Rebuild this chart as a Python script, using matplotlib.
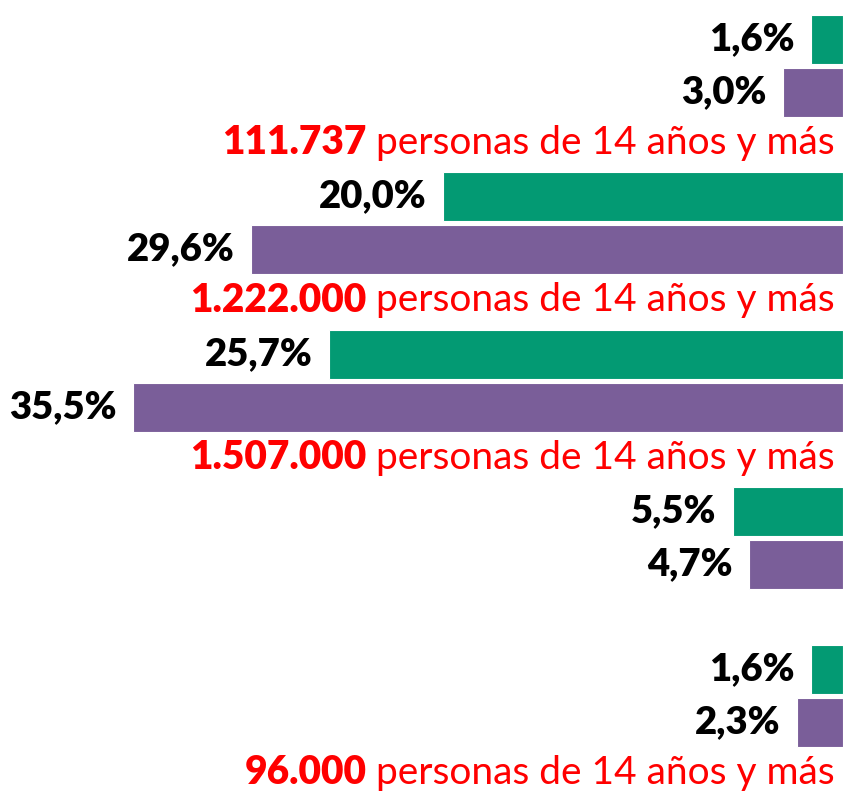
import matplotlib
import matplotlib.pyplot as plt

matplotlib.use("Agg")

GREEN = "#039A73"
PURPLE = "#7A5E99"
RED = "#FF0000"

green_vals = [1.6, 20.0, 25.7, 5.5, 1.6]
purple_vals = [3.0, 29.6, 35.5, 4.7, 2.3]
green_labels = ["1,6%", "20,0%", "25,7%", "5,5%", "1,6%"]
purple_labels = ["3,0%", "29,6%", "35,5%", "4,7%", "2,3%"]
people = ["111.737", "1.222.000", "1.507.000", None, "96.000"]
people_text = " personas de 14 años y más"

plt.rcParams["font.family"] = ["Lato", "DejaVu Sans"]

W, H = 843, 796
fig = plt.figure(figsize=(W / 100, H / 100), dpi=100)
ax = fig.add_axes([0, 0, 1, 1])
ax.set_xlim(W / 20, 0)   # 20 px per percent, bars grow to the left
ax.set_ylim(H, 0)
ax.axis("off")

step = 157.5
bar_h = 49
top = 39
for i in range(len(green_vals)):
    gy = top + step * i
    py = gy + 53
    ax.barh(gy, green_vals[i], height=bar_h, color=GREEN, edgecolor="white", linewidth=0.8)
    ax.barh(py, purple_vals[i], height=bar_h, color=PURPLE, edgecolor="white", linewidth=0.8)
    for y, v, lab in [(gy, green_vals[i], green_labels[i]), (py, purple_vals[i], purple_labels[i])]:
        ax.annotate(lab, xy=(v, y), xytext=(-12, 0), textcoords="offset points",
                    ha="right", va="center", fontsize=27.5, fontweight="heavy", color="black")
    if people[i]:
        ty = py + 51
        t = ax.text(0.4, ty, people_text, ha="right", va="center", fontsize=28, color=RED)
        ax.annotate(people[i], xy=(0, 0), xycoords=t, ha="right", va="bottom",
                    fontsize=28, fontweight="heavy", color=RED)

fig.savefig("out.png", dpi=100, facecolor="white")
